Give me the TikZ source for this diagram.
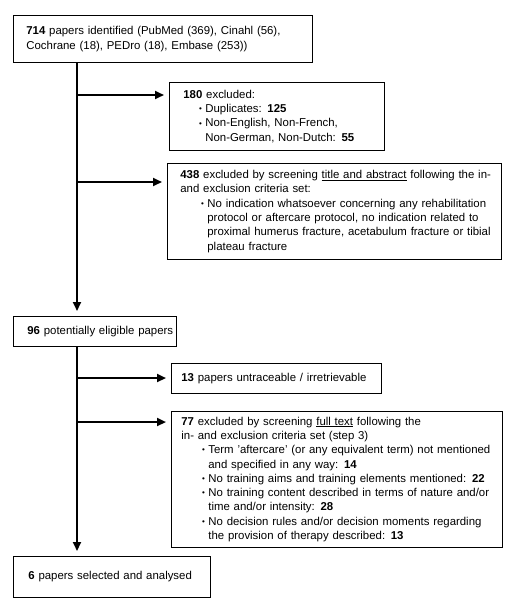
\documentclass[tikz,border=0pt]{standalone}
\usepackage{fontspec}
\setmainfont{Liberation Sans}
\usetikzlibrary{arrows.meta}
\newcommand\mybul{\leavevmode\llap{\raisebox{0.9pt}{\fontsize{8}{8}\selectfont\textbullet}\hspace{3.5pt}}}
\begin{document}
\begin{tikzpicture}[x=1pt,y=-1pt,
 box/.style={draw, line width=0.8pt, anchor=north west, inner xsep=2pt, inner ysep=0pt, align=left,
   font=\fontsize{11.4}{14.3}\selectfont},
 conn/.style={line width=2.2pt, -{Triangle[length=9pt,width=8pt]}, shorten >=5pt}
]
\useasboundingbox (0,0) rectangle (513,602);

\node[box, text width=295pt, minimum height=47pt] (b1) at (13,15)
 {\leftskip=11pt\relax\textbf{714} papers identified (PubMed (369), Cinahl (56),\\Cochrane (18), PEDro (18), Embase (253))\par};

\node[box, text width=211pt, minimum height=68pt] (b180) at (169,82)
 {\leftskip=12pt\relax\textbf{180} excluded:\par
  \leftskip=34pt\relax\mybul Duplicates: \textbf{125}\par
  \mybul Non-English, Non-French,\\Non-German, Non-Dutch: \textbf{55}\par};

\node[box, text width=330pt, minimum height=96pt] (b438) at (167,163)
 {\leftskip=11pt\relax\textbf{438} excluded by screening \underline{title and abstract} following the in-\\and exclusion criteria set:\par
  \leftskip=38pt\relax\mybul No indication whatsoever concerning any rehabilitation\\protocol or aftercare protocol, no indication related to\\proximal humerus fracture, acetabulum fracture or tibial\\plateau fracture\par};

\node[box, text width=159pt, minimum height=30pt] (b96) at (13,316)
 {\leftskip=12pt\relax\textbf{96} potentially eligible papers\par};

\node[box, text width=206pt, minimum height=30pt] (b13) at (171,363)
 {\leftskip=8pt\relax\textbf{13} papers untraceable / irretrievable\par};

\node[box, text width=327pt, minimum height=136pt] (b77) at (171,411)
 {\leftskip=8pt\relax\textbf{77} excluded by screening \underline{full text} following the\\in- and exclusion criteria set (step 3)\par
  \leftskip=35pt\relax\mybul Term 'aftercare' (or any equivalent term) not mentioned\\and specified in any way: \textbf{14}\par
  \mybul No training aims and training elements mentioned: \textbf{22}\par
  \mybul No training content described in terms of nature and/or\\time and/or intensity: \textbf{28}\par
  \mybul No decision rules and/or decision moments regarding\\the provision of therapy described: \textbf{13}\par};

\node[box, text width=193pt, minimum height=41pt] (b6) at (13,556)
 {\leftskip=13pt\relax\textbf{6} papers selected and analysed\par};

\coordinate (ta) at (77,95);
\coordinate (tb) at (77,182);
\coordinate (tc) at (77,378);
\coordinate (td) at (77,422);

\draw[conn] (b1.south -| ta) -- (b96.north -| ta);
\draw[conn] (ta) -- (ta -| b180.west);
\draw[conn] (tb) -- (tb -| b438.west);
\draw[conn] (b96.south -| tc) -- (b6.north -| tc);
\draw[conn] (tc) -- (tc -| b13.west);
\draw[conn] (td) -- (td -| b77.west);
\end{tikzpicture}
\end{document}
